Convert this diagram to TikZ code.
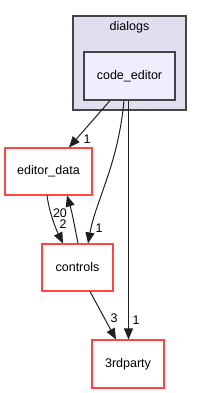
\documentclass[tikz,border=0pt]{standalone}
\usepackage{fontspec}
\setmainfont{Liberation Sans}
\usetikzlibrary{arrows.meta}
\definecolor{outerfill}{HTML}{DFDFEF}
\definecolor{innerfill}{HTML}{EEEEFF}
\definecolor{boxline}{HTML}{444444}
\definecolor{redline}{HTML}{FF4444}
\definecolor{edgecol}{HTML}{202020}
\tikzset{
  outerbox/.style={draw=boxline, fill=outerfill, line width=1.2pt},
  innerbox/.style={draw=boxline, fill=innerfill, line width=1.2pt, minimum width=91pt, minimum height=48pt, inner sep=0pt},
  redbox/.style={draw=redline, fill=white, line width=1.1pt, inner sep=0pt},
  lbl/.style={font=\fontsize{12.5}{14}\selectfont, inner sep=0pt},
  edgelbl/.style={font=\fontsize{12.5}{14}\selectfont, inner sep=0pt, text=black},
  edge/.style={draw=edgecol, line width=1pt, -{Triangle[length=11pt,width=9pt]}},
}
\begin{document}
\begin{tikzpicture}[x=1pt,y=-1pt]
\useasboundingbox (0,0) rectangle (202,393);
\fill[white] (0,0) rectangle (202,393);
\draw[outerbox] (73,16) rectangle (186,110);
\node[lbl] (dialogs) at (129.5,27) {dialogs};
\node[innerbox, lbl] (ce) at (129.5,76) {code\_editor};
\node[redbox, lbl, minimum width=87pt, minimum height=47pt] (ed) at (48.5,171.5) {editor\_data};
\node[redbox, lbl, minimum width=71pt, minimum height=47pt] (ct) at (77.5,267.5) {controls};
\node[redbox, lbl, minimum width=72pt, minimum height=48pt] (tp) at (128,364) {3rdparty};
% code_editor -> editor_data
\draw[edge] ([xshift=-19.5pt]ce.south) -- ([xshift=20.5pt]ed.north);
% code_editor -> controls
\draw[edge] ([xshift=-5.5pt]ce.south) .. controls (118,165) and (96,200) .. ([xshift=10.5pt]ct.north);
% code_editor -> 3rdparty
\draw[edge] ([xshift=-1pt]ce.south) .. controls (128.5,180) and (128.5,280) .. ([xshift=0.5pt]tp.north);
% editor_data -> controls
\draw[edge] ([xshift=-1.5pt]ed.south) .. controls (49,210) and (54,225) .. ([xshift=-14.5pt]ct.north);
% controls -> editor_data
\draw[edge] ([xshift=0.5pt]ct.north) .. controls (75,228) and (72,212) .. ([xshift=18.5pt]ed.south);
% controls -> 3rdparty
\draw[edge] ([xshift=12.5pt]ct.south) -- ([xshift=-12pt]tp.north);
% labels
\node[edgelbl] (l1) at (87,139) {1};
\node[edgelbl] (l20) at (60,213) {20};
\node[edgelbl] (l2) at (63,224) {2};
\node[edgelbl] (l3) at (99,228) {1};
\node[edgelbl] (l4) at (114,318) {3};
\node[edgelbl] (l5) at (136,320) {1};
\end{tikzpicture}
\end{document}
